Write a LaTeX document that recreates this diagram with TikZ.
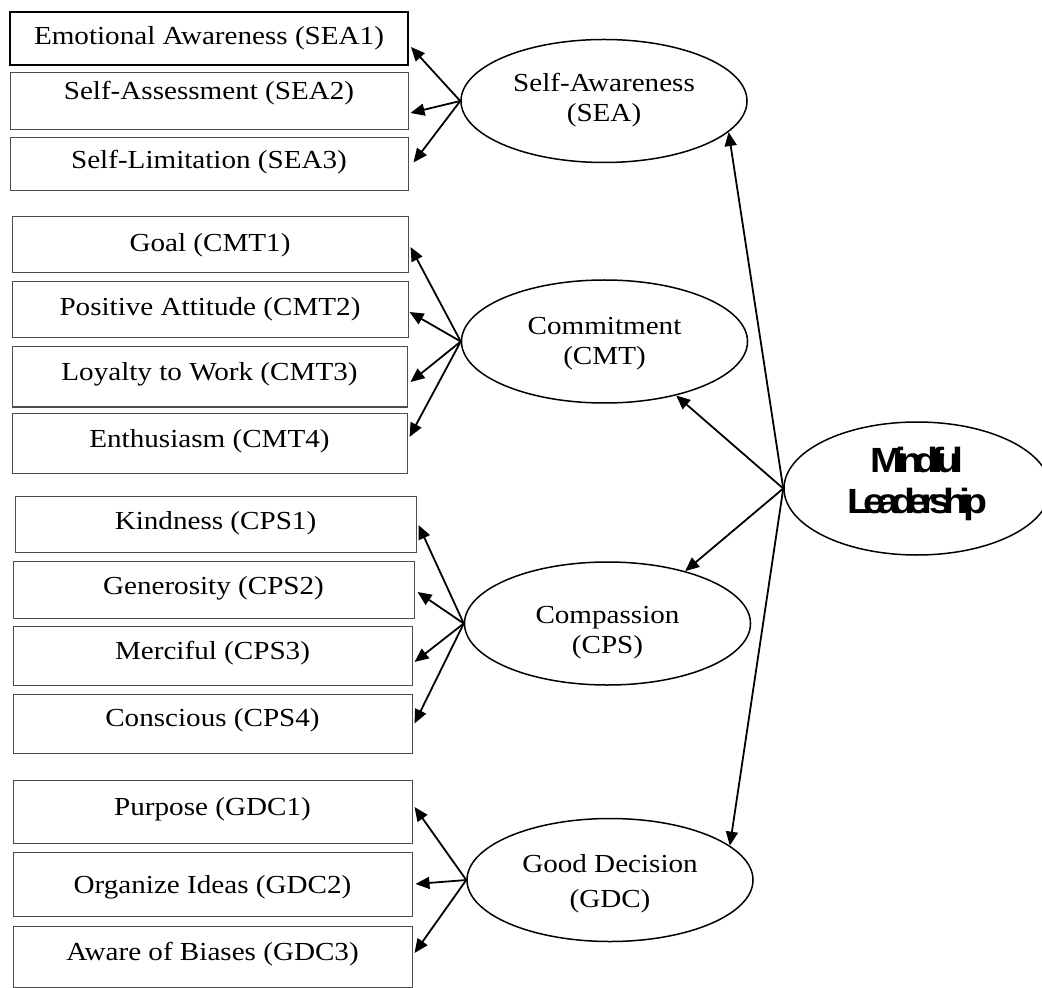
\documentclass[tikz,border=0pt]{standalone}
\usepackage{fontspec}
\setmainfont{Liberation Serif}[FakeStretch=1.12]
\newfontfamily\mlfont{Liberation Sans}[FakeStretch=1.12,LetterSpace=-22]
\usetikzlibrary{arrows.meta,shapes.geometric}
\newcommand\txtup[2]{\raisebox{#1}[\height][\depth]{#2}}
\begin{document}
\begin{tikzpicture}[x=0.5pt,y=-0.5pt,
  ibox/.style={draw=black!70, line width=0.5pt, rectangle, inner sep=0pt,
    font=\fontsize{13}{15}\selectfont},
  lat/.style={draw, ellipse, line width=0.75pt, inner sep=0pt,
    minimum width=143pt, minimum height=61.5pt, font=\fontsize{13}{15}\selectfont},
  arr/.style={-{Triangle[length=7pt,width=6pt]}, line width=0.9pt}]
\useasboundingbox (0,0) rectangle (1042,988);
\clip (0,0) rectangle (1042,988);
% Self-Awareness items
\node[ibox, draw=black, line width=0.9pt, minimum width=199pt, minimum height=26.5pt] (sea1) at (209,38.5) {\txtup{0pt}{Emotional Awareness (SEA1)}};
\node[ibox, minimum width=199pt, minimum height=28.5pt] (sea2) at (209,101.5) {\txtup{4.3pt}{Self-Assessment (SEA2)}};
\node[ibox, minimum width=199pt, minimum height=26.5pt] (sea3) at (209,164.5) {\txtup{1.3pt}{Self-Limitation (SEA3)}};
% Commitment items
\node[ibox, minimum width=198pt, minimum height=28pt] (cmt1) at (210,245) {\txtup{0pt}{Goal (CMT1)}};
\node[ibox, minimum width=198pt, minimum height=28pt] (cmt2) at (210,310) {\txtup{0.3pt}{Positive Attitude (CMT2)}};
\node[ibox, minimum width=197.5pt, minimum height=30pt] (cmt3) at (209.5,377) {\txtup{1.3pt}{Loyalty to Work (CMT3)}};
\node[ibox, minimum width=197.5pt, minimum height=30pt] (cmt4) at (209.5,443) {\txtup{0.8pt}{Enthusiasm (CMT4)}};
% Compassion items
\node[ibox, minimum width=200.5pt, minimum height=28pt] (cps1) at (215.5,524) {\txtup{0.3pt}{Kindness (CPS1)}};
\node[ibox, minimum width=200.5pt, minimum height=28.5pt] (cps2) at (213.5,589.5) {\txtup{0.8pt}{Generosity (CPS2)}};
\node[ibox, minimum width=199.5pt, minimum height=29.5pt] (cps3) at (212.5,655.5) {\txtup{1.3pt}{Merciful (CPS3)}};
\node[ibox, minimum width=199.5pt, minimum height=29.5pt] (cps4) at (212.5,723.5) {\txtup{1.8pt}{Conscious (CPS4)}};
% Good Decision items
\node[ibox, minimum width=199.5pt, minimum height=31.5pt] (gdc1) at (212.5,811.5) {\txtup{1.3pt}{Purpose (GDC1)}};
\node[ibox, minimum width=199.5pt, minimum height=32pt] (gdc2) at (212.5,884) {\txtup{-1.7pt}{Organize Ideas (GDC2)}};
\node[ibox, minimum width=199.5pt, minimum height=30.5pt] (gdc3) at (212.5,956.5) {\txtup{1.3pt}{Aware of Biases (GDC3)}};
% latent variables
\node[lat] (sea) at (604,101) {\txtup{0pt}{\begin{tabular}{@{}c@{}}Self-Awareness\\(SEA)\end{tabular}}};
\node[lat] (cmt) at (604.5,341.5) {\txtup{-1.25pt}{\begin{tabular}{@{}c@{}}Commitment\\(CMT)\end{tabular}}};
\node[lat] (cps) at (607.5,623.5) {\txtup{-4.5pt}{\begin{tabular}{@{}c@{}}Compassion\\(CPS)\end{tabular}}};
\node[lat] (gdc) at (610,880) {\txtup{-1.75pt}{\begin{tabular}{@{}c@{}}Good Decision\\[2.5pt](GDC)\end{tabular}}};
\node[lat, minimum width=133pt, minimum height=66.5pt, font=\fontsize{17.5}{20.5}\mlfont\bfseries] (ml) at (917,488.5)
  {\txtup{2.1pt}{\begin{tabular}{@{}c@{}}Mindful\\Leadership\end{tabular}}};
% arrows to indicators
\draw[arr] (sea.west) -- ([xshift=1pt,yshift=-4.25pt]sea1.east);
\draw[arr] (sea.west) -- ([xshift=1pt,yshift=-5.75pt]sea2.east);
\draw[arr] (sea.west) -- ([xshift=2.5pt,yshift=1pt]sea3.east);
\draw[arr] (cmt.west) -- ([xshift=1pt,yshift=-1pt]cmt1.east);
\draw[arr] (cmt.west) -- ([xshift=0.5pt,yshift=-1pt]cmt2.east);
\draw[arr] (cmt.west) -- ([xshift=1.5pt,yshift=-2.5pt]cmt3.east);
\draw[arr] (cmt.west) -- ([xshift=1pt,yshift=3pt]cmt4.east);
\draw[arr] (cps.west) -- ([xshift=1pt,yshift=-0.5pt]cps1.east);
\draw[arr] (cps.west) -- ([xshift=1.5pt,yshift=-1.25pt]cps2.east);
\draw[arr] (cps.west) -- ([xshift=1pt,yshift=-3.25pt]cps3.east);
\draw[arr] (cps.west) -- ([xshift=1pt]cps4.east);
\draw[arr] (gdc.west) -- ([xshift=1pt,yshift=2.25pt]gdc1.east);
\draw[arr] (gdc.west) -- ([xshift=1.5pt]gdc2.east);
\draw[arr] (gdc.west) -- ([xshift=1pt,yshift=1.75pt]gdc3.east);
% arrows from Mindful Leadership
\draw[arr] (ml.west) -- (sea.-14);
\draw[arr] (ml.west) -- (cmt.-37.4);
\draw[arr] (ml.west) -- (cps.34.5);
\draw[arr] (ml.west) -- (gdc.16.9);
\end{tikzpicture}
\end{document}
